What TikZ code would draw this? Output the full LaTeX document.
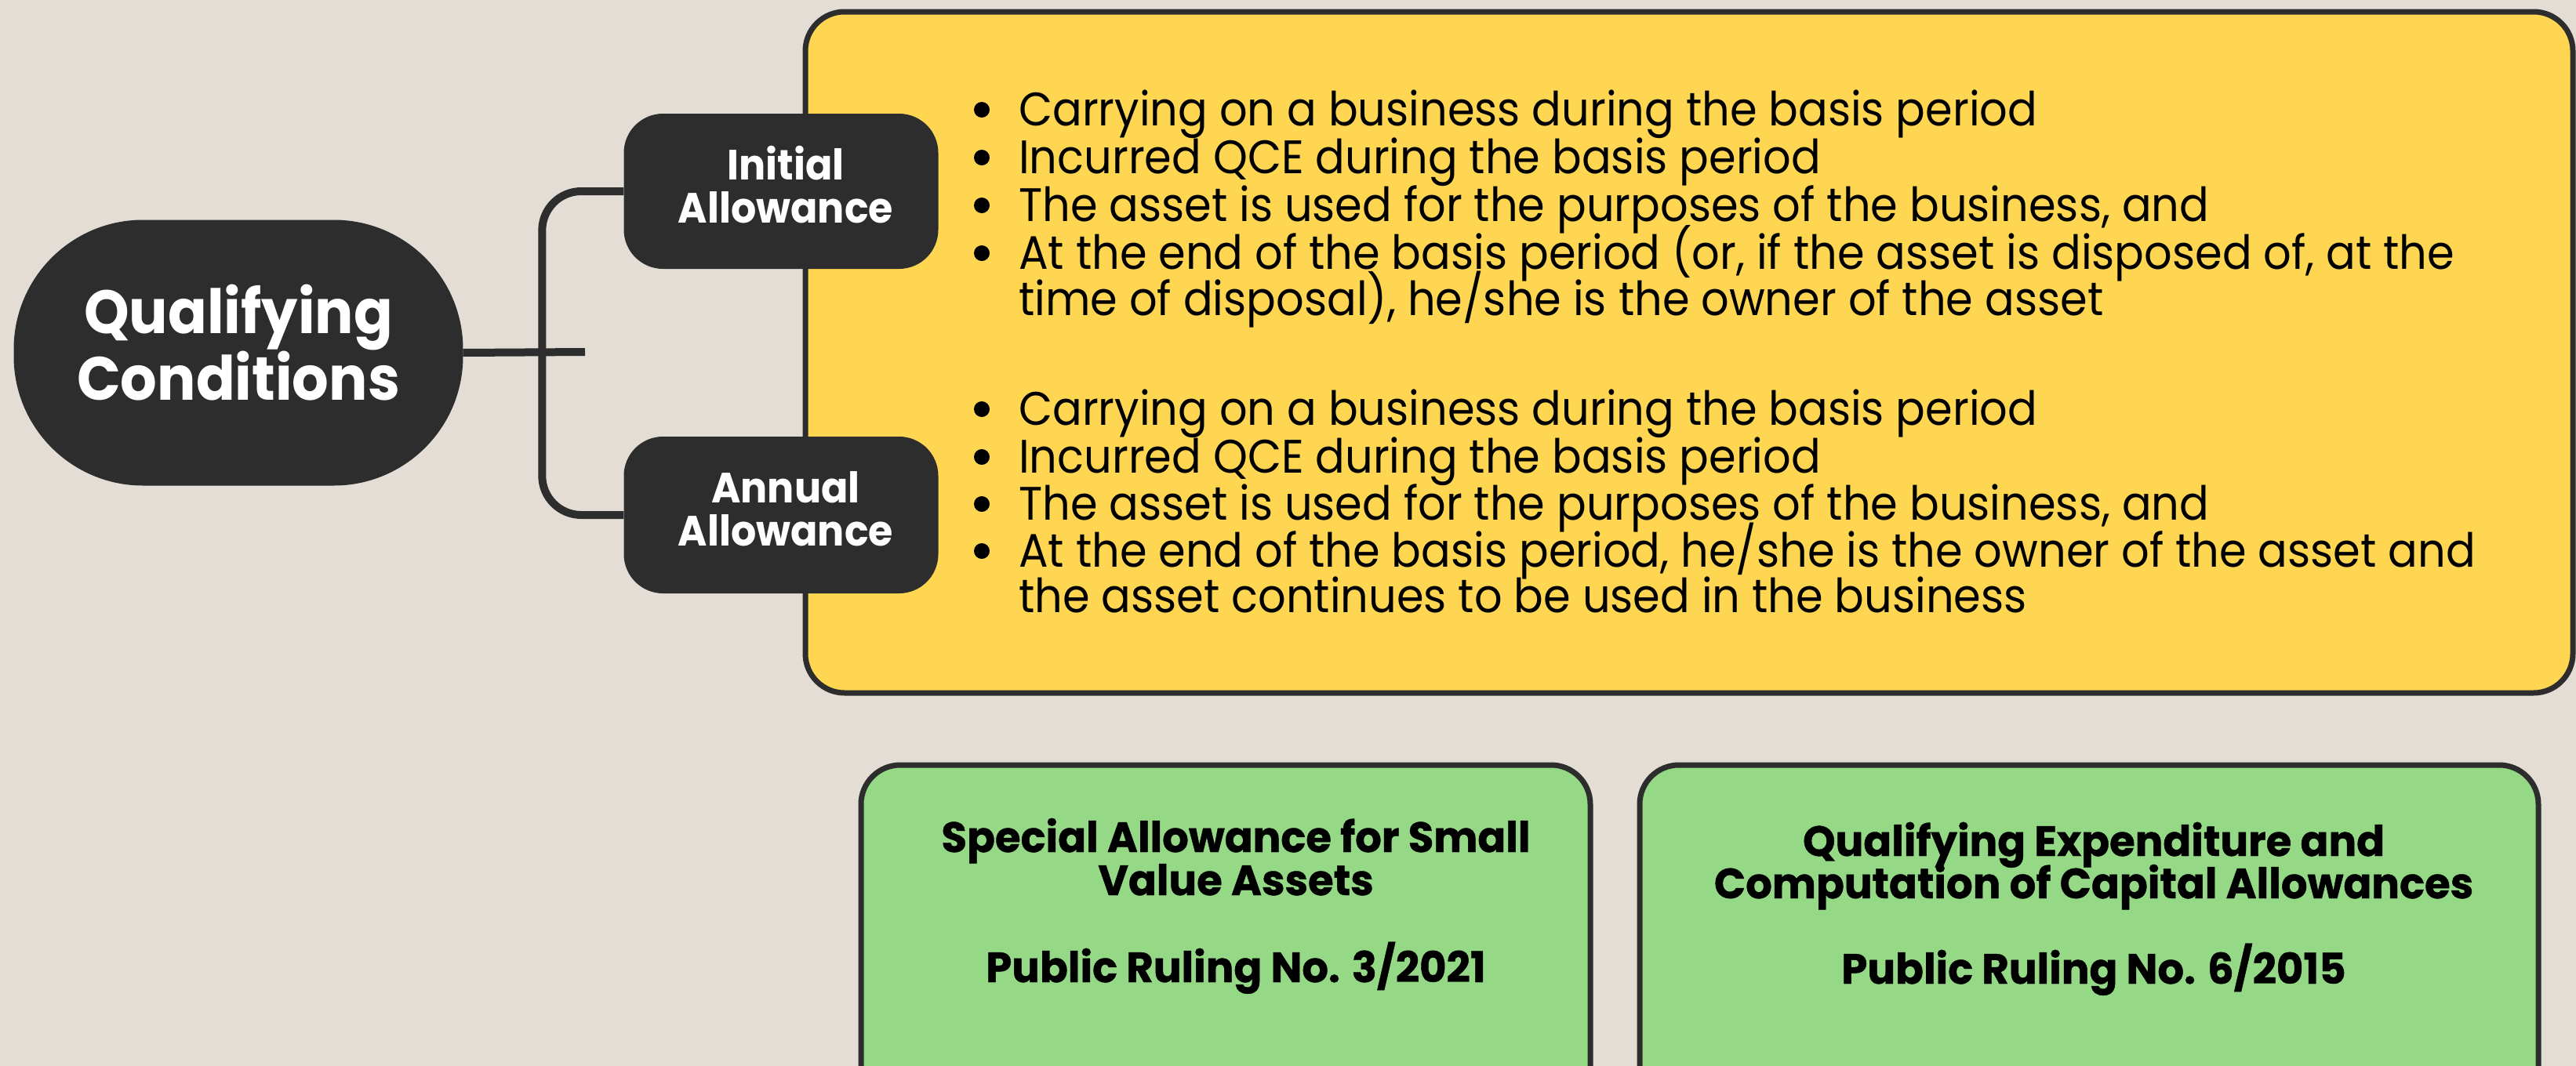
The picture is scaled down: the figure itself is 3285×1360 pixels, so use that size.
\documentclass[tikz,border=0pt]{standalone}
\usepackage{fontspec}
\setmainfont{Poppins}
\newfontfamily\itemfont[FakeStretch=0.93]{Poppins}
\newfontfamily\headfont[FakeStretch=0.94]{Poppins}
\newfontfamily\greenfont[FakeStretch=0.98,FakeBold=0.8]{Poppins}
\definecolor{bgc}{HTML}{E3DDD6}
\definecolor{yel}{HTML}{FFD652}
\definecolor{grn}{HTML}{95D986}
\definecolor{drk}{HTML}{2D2D2D}
\tikzset{
  darkbox/.style={fill=drk, draw=none, inner sep=0pt},
  wtext/.style={text=white, align=center, inner sep=0pt},
  yelbox/.style={fill=yel, draw=drk, line width=7pt, rounded corners=50pt},
  grnbox/.style={fill=grn, draw=drk, line width=7pt, rounded corners=50pt},
  conn/.style={draw=drk, line width=10pt, rounded corners=50pt},
  item/.style={anchor=base west, inner sep=0pt, font=\itemfont\fontsize{60}{60}\selectfont},
  gtext/.style={anchor=base, inner sep=0pt, font=\greenfont\fontsize{54}{54}\selectfont\bfseries},
  bulletdot/.style={fill=black},
}
\begin{document}
\begin{tikzpicture}[x=1pt,y=-1pt]
\useasboundingbox (0,0) rectangle (3285,1360);
\fill[bgc] (0,0) rectangle (3285,1360);
\clip (0,0) rectangle (3285,1360);

% yellow panel
\path[yelbox] (1027,15) rectangle (3281,884);

% green panels
\path[grnbox] (1098,976) rectangle (2028,1420);
\path[grnbox] (2091,976) rectangle (3237,1420);

% main pill
\node[darkbox, minimum width=573pt, minimum height=339pt, rounded corners=165pt] (qc) at (304,450) {};
\node[wtext, font=\headfont\fontsize{78}{78}\selectfont\bfseries] (qct) at (304,437) {Qualifying\\Conditions};

% allowance boxes
\node[darkbox, minimum width=401pt, minimum height=198pt, rounded corners=50pt] (ia) at (996,244) {};
\node[wtext, font=\headfont\fontsize{54}{55}\selectfont\bfseries] (iat) at (1002,236) {Initial\\Allowance};
\node[darkbox, minimum width=401pt, minimum height=200pt, rounded corners=50pt] (aa) at (996,657) {};
\node[wtext, font=\headfont\fontsize{54}{55}\selectfont\bfseries] (aat) at (1002,649) {Annual\\Allowance};

% connectors
\coordinate (stub) at (746,449);
\draw[conn] (ia.west) -- ++(-104,0) |- (aa.west);
\draw[draw=drk, line width=10pt] (qc.east) -- (stub);

% initial allowance items
\node[item] (i1) at (1299,160) {Carrying on a business during the basis period};
\node[item] (i2) at (1299,221) {Incurred QCE during the basis period};
\node[item] (i3) at (1299,282) {The asset is used for the purposes of the business, and};
\node[item] (i4) at (1299,343) {At the end of the basis period (or, if the asset is disposed of, at the};
\node[item] (i5) at (1299,402) {time of disposal), he/she is the owner of the asset};

% annual allowance items
\node[item] (a1) at (1299,542) {Carrying on a business during the basis period};
\node[item] (a2) at (1299,603) {Incurred QCE during the basis period};
\node[item] (a3) at (1299,663) {The asset is used for the purposes of the business, and};
\node[item] (a4) at (1299,723) {At the end of the basis period, he/she is the owner of the asset and};
\node[item] (a5) at (1299,781) {the asset continues to be used in the business};

% bullets
\foreach \n in {i1,i2,i3,i4,a1,a2,a3,a4}
  \fill[bulletdot] (\n.base west) ++(-47,-20) circle (10pt);

% green texts
\node[gtext] (g1a) at (1576,1087) {Special Allowance for Small};
\node[gtext] (g1b) at (1576,1142) {Value Assets};
\node[gtext] (g1c) at (1576,1253) {Public Ruling No. 3/2021};
\node[gtext] (g2a) at (2670,1092) {Qualifying Expenditure and};
\node[gtext] (g2b) at (2670,1146) {Computation of Capital Allowances};
\node[gtext] (g2c) at (2670,1255) {Public Ruling No. 6/2015};
\end{tikzpicture}
\end{document}
